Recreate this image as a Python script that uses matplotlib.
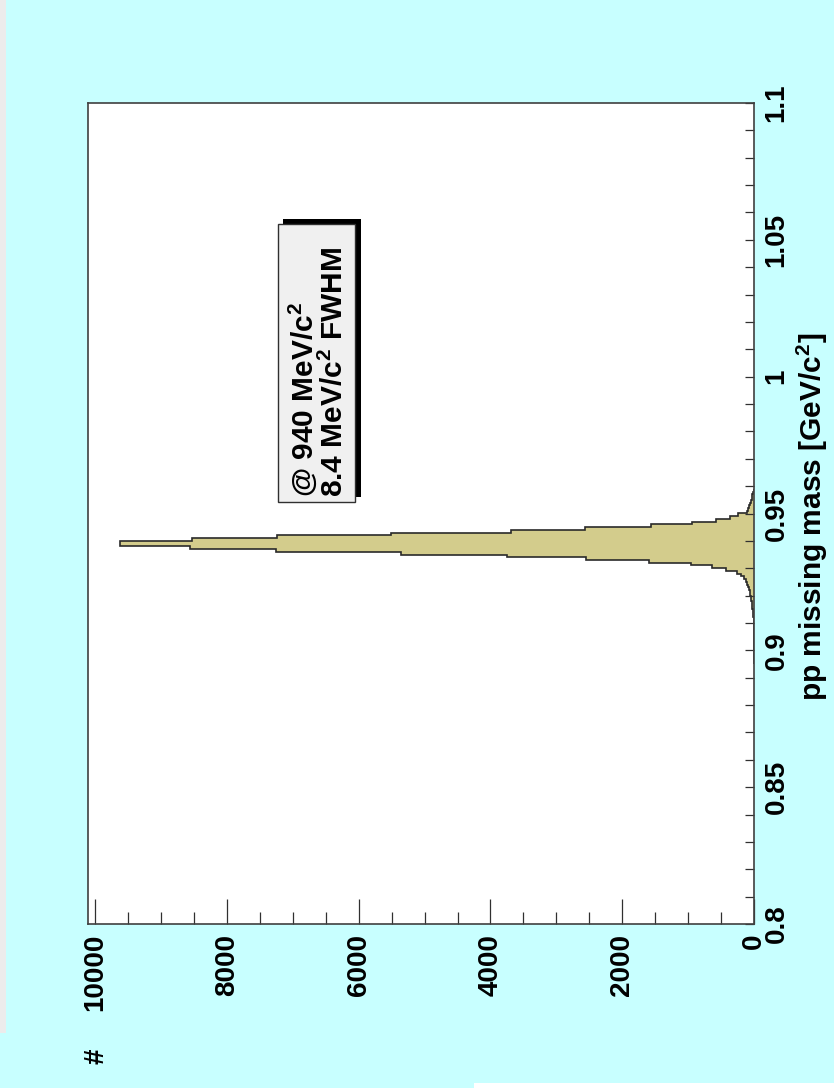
import numpy as np
import matplotlib.pyplot as plt
from matplotlib.patches import Rectangle
from matplotlib.ticker import MultipleLocator, FuncFormatter

plt.rcParams['font.family'] = ['Liberation Sans', 'DejaVu Sans']
plt.rcParams['font.weight'] = 'bold'
plt.rcParams['mathtext.fontset'] = 'custom'
plt.rcParams['mathtext.rm'] = 'Liberation Sans:bold'
plt.rcParams['mathtext.it'] = 'Liberation Sans:bold'
plt.rcParams['mathtext.bf'] = 'Liberation Sans:bold'

# pp missing mass histogram, 1 MeV bins starting at 0.895 GeV/c^2
mass_min = 0.895
bin_width = 0.001
counts = [0, 2, 0, 3, 0, 2, 0, 3, 0, 4,
          0, 3, 5, 0, 4, 5, 7, 9, 13, 18,
          24, 31, 37, 42, 47, 54, 62, 72, 85, 100,
          120, 148, 195, 265, 420, 643, 962, 1591, 2543, 3749,
          5354, 7254, 8556, 9625, 9625, 8526, 7234, 5506, 3682, 2568,
          1570, 947, 582, 365, 239, 111, 92, 76, 60, 46,
          34, 23, 13, 5]

mass_range = (0.8, 1.1)
count_max = 10110
box_lines = [r'@ 940 MeV/c$^{2}$', r'8.4 MeV/c$^{2}$ FWHM']

W, H = 834, 1088
def fx(x):
    return x / W
def fy(y):
    return 1 - y / H

fig = plt.figure(figsize=(W / 100, H / 100), dpi=100)
fig.patch.set_facecolor('#c8ffff')
fig.patches.append(Rectangle((0, fy(1033)), fx(6), 1 - fy(1033), transform=fig.transFigure,
                             facecolor='#ececec', edgecolor='none', zorder=0))
fig.patches.append(Rectangle((fx(474), 0), 1 - fx(474), fy(1083), transform=fig.transFigure,
                             facecolor='white', edgecolor='none', zorder=0))

ax = fig.add_axes([fx(88), fy(924), fx(754) - fx(88), fy(103) - fy(924)])
ax.set_facecolor('white')

edges = mass_min + bin_width * np.arange(len(counts) + 1)
ax.stairs(counts, edges, orientation='horizontal', fill=True, baseline=0,
          facecolor='#d3cc8c', edgecolor='none')
ax.stairs(counts, edges, orientation='horizontal', fill=False, baseline=0,
          edgecolor='#2a2a2a', linewidth=1.2)

ax.set_xlim(count_max, 0)
ax.set_ylim(*mass_range)

for s in ax.spines.values():
    s.set_color('#404040')
    s.set_linewidth(1.2)

ax.xaxis.set_major_locator(MultipleLocator(2000))
ax.xaxis.set_minor_locator(MultipleLocator(500))
ax.yaxis.set_major_locator(MultipleLocator(0.05))
ax.yaxis.set_minor_locator(MultipleLocator(0.01))
ax.xaxis.set_major_formatter(FuncFormatter(lambda v, p: '%d' % round(v)))
ax.yaxis.set_major_formatter(FuncFormatter(lambda v, p: '%g' % round(v, 3)))

ax.xaxis.set_ticks_position('bottom')
ax.yaxis.set_ticks_position('right')
ax.tick_params(axis='x', which='major', direction='in', length=18, width=0.9,
               color='#303030', labelsize=20, pad=7, labelrotation=90)
ax.tick_params(axis='x', which='minor', direction='in', length=8.8, width=0.9, color='#303030')
ax.tick_params(axis='y', which='both', direction='in', length=6.5, width=0.9,
               color='#303030', labelsize=20, pad=7, labelrotation=90,
               right=True, left=False, labelright=True, labelleft=False)
for lab in ax.get_yticklabels():
    lab.set_va('center')
    lab.set_ha('left')

# annotation box with shadow
fig.patches.append(Rectangle((fx(283), fy(497)), fx(361) - fx(283), fy(219) - fy(497),
                             transform=fig.transFigure, facecolor='black', edgecolor='none', zorder=3))
fig.patches.append(Rectangle((fx(278), fy(502)), fx(354.5) - fx(278), fy(224) - fy(502),
                             transform=fig.transFigure, facecolor='#f0f0f0', edgecolor='#303030',
                             linewidth=1.0, zorder=4))
for xb, line in zip([313, 343], box_lines):
    fig.text(fx(xb), fy(497), line, rotation=90, rotation_mode='anchor',
             ha='left', va='baseline', fontsize=21.5, zorder=5)

fig.text(fx(812), fy(517), r'pp missing mass [GeV/c$^{2}$]', rotation=90,
         ha='center', va='center', fontsize=21.5)
fig.text(fx(96), fy(1056), '#', rotation=90, ha='center', va='center', fontsize=20)

fig.savefig('out.png', dpi=100, facecolor=fig.get_facecolor())
